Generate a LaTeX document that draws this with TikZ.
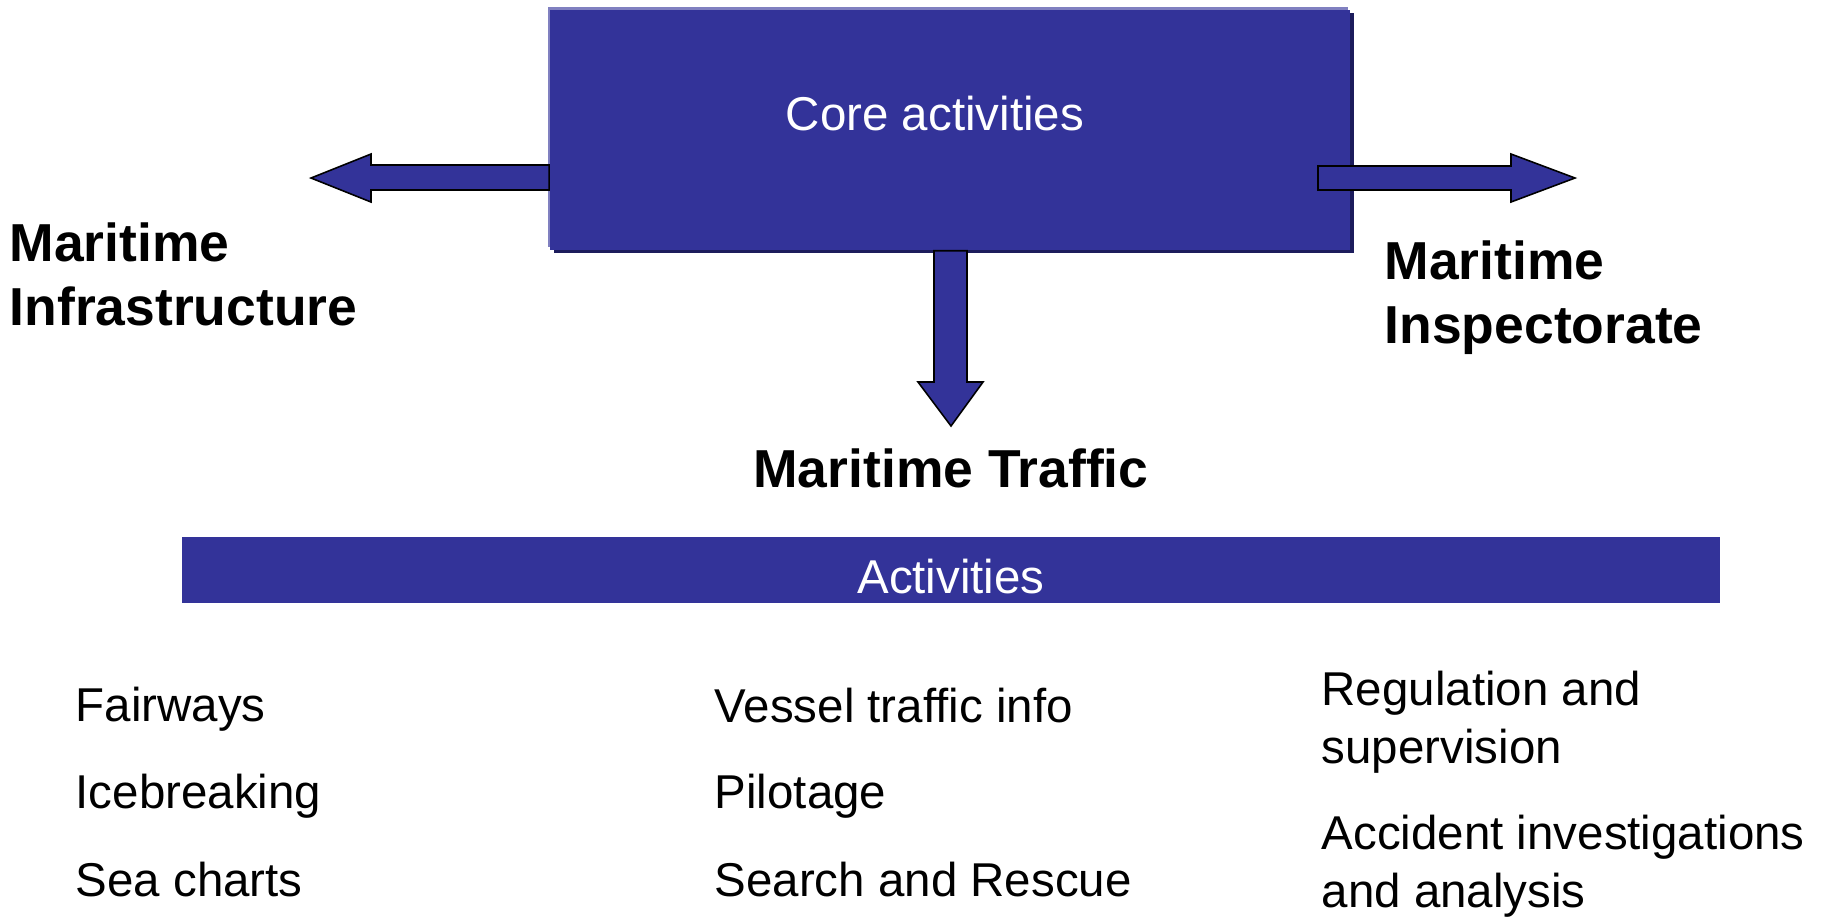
\documentclass[tikz,border=0pt]{standalone}
\usepackage{fontspec}
\setmainfont{Liberation Sans}
\usetikzlibrary{positioning}
\definecolor{coreblue}{RGB}{51,51,153}
\definecolor{coredark}{RGB}{28,28,92}
\definecolor{corelight}{RGB}{128,128,192}

\begin{document}
\begin{tikzpicture}[x=0.01cm,y=-0.01cm,
  corebox/.style={fill=coreblue,inner sep=0pt,minimum width=8cm,minimum height=2.4cm},
  coretext/.style={text=white,font=\fontsize{13.5}{15.6}\selectfont,inner sep=0pt,anchor=base},
  barbox/.style={fill=coreblue,inner sep=0pt,minimum width=15.38cm,minimum height=0.66cm,
    text=white,font=\fontsize{13.5}{15.6}\selectfont,text height=0.46cm,text depth=0cm},
  blockarrow/.style={fill=coreblue,draw=black,line width=0.45pt,line join=miter},
  heading/.style={font=\bfseries\fontsize{15.2}{18.1}\selectfont,align=left,inner sep=0pt},
  item/.style={font=\fontsize{13.5}{16.4}\selectfont,align=left,inner sep=0pt,anchor=base west}]
\useasboundingbox (0,0) rectangle (1827,920);

% core box with a light and a dark edge
\fill[coredark] (554,13) rectangle (1354,253);
\fill[corelight] (548,7) rectangle (1348,247);
\node[corebox] (core) at (950,130) {};
\node[coretext] (corelabel) at (935,130) {Core activities};

% block arrows
\draw[blockarrow] (core.west |- 0,165) -- (371,165) -- (371,154) -- (311,178)
  -- (371,202) -- (371,190) -- (core.west |- 0,190) -- cycle;
\draw[blockarrow] (1318,166) -- (1511,166) -- (1511,154) -- (1575,178)
  -- (1511,202) -- (1511,190) -- (1318,190) -- cycle;
\draw[blockarrow] (934,0 |- core.south) -- (934,382) -- (918,382) -- (951,426)
  -- (983,382) -- (967,382) -- (967,0 |- core.south) -- cycle;

% base of a two-line node is its last line
\node[heading,anchor=base west] (infra) at (9,325) {Maritime\\Infrastructure};
\node[heading,anchor=base west] (inspect) at (1384,343) {Maritime\\Inspectorate};
\node[heading,anchor=base] (traffic) at (951,487) {Maritime Traffic};

\node[barbox] (actbar) at (951,570) {Activities};

% lists
\node[item] (fairways) at (75,721) {Fairways};
\node[item] (icebreak) at (75,808) {Icebreaking};
\node[item] (seacharts) at (75,896) {Sea charts};

\node[item] (vessel) at (714,722) {Vessel traffic info};
\node[item] (pilot) at (714,808) {Pilotage};
\node[item] (sar) at (714,896) {Search and Rescue};

\node[item] (regul) at (1321,763) {Regulation and\\supervision};
\node[item] (accident) at (1321,907) {Accident investigations\\and analysis};
\end{tikzpicture}
\end{document}
